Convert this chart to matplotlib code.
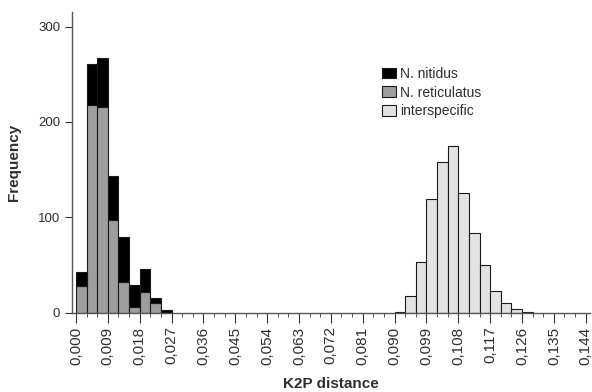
import matplotlib
matplotlib.use('Agg')
import matplotlib.pyplot as plt
from matplotlib.ticker import MultipleLocator, FuncFormatter

plt.rcParams['font.family'] = ['Liberation Sans', 'DejaVu Sans']

# bin left edges (width 0.003)
intra_bins = [0.000, 0.003, 0.006, 0.009, 0.012, 0.015, 0.018, 0.021, 0.024]
reticulatus = [28, 218, 216, 97, 32, 6, 21, 10, 0]
nitidus = [14, 43, 51, 46, 47, 23, 25, 5, 3]

inter_bins = [0.090, 0.093, 0.096, 0.099, 0.102, 0.105, 0.108,
              0.111, 0.114, 0.117, 0.120, 0.123, 0.126]
interspecific = [1, 17, 53, 119, 158, 175, 125, 83, 50, 23, 10, 4, 1]

w = 0.003
txt = '#2e2e2e'

fig = plt.figure(figsize=(5.92, 3.92), dpi=100)
ax = fig.add_axes([0.1216, 0.2028, 0.875, 0.766])

ax.bar(intra_bins, reticulatus, width=w, align='edge', color='#9e9e9e',
       edgecolor='#1a1a1a', linewidth=0.8, label='N. reticulatus')
ax.bar(intra_bins, nitidus, bottom=reticulatus, width=w, align='edge',
       color='#000000', edgecolor='#1a1a1a', linewidth=0.8, label='N. nitidus')
ax.bar(inter_bins, interspecific, width=w, align='edge', color='#e3e3e3',
       edgecolor='#1a1a1a', linewidth=0.8, label='interspecific')

ax.set_xlim(-0.00113, 0.1452)
ax.set_ylim(0, 315)

ax.xaxis.set_major_locator(MultipleLocator(0.009))
ax.xaxis.set_minor_locator(MultipleLocator(0.003))
ax.xaxis.set_major_formatter(FuncFormatter(lambda v, p: ('%.3f' % v).replace('.', ',')))
ax.yaxis.set_major_locator(MultipleLocator(100))

for s in ['top', 'right']:
    ax.spines[s].set_visible(False)
for s in ['left', 'bottom']:
    ax.spines[s].set_color('#555555')
    ax.spines[s].set_linewidth(1.0)

ax.tick_params(axis='x', which='major', length=7, color='#333333',
               labelsize=11, labelcolor=txt, rotation=90, pad=3)
ax.tick_params(axis='x', which='minor', length=3, color='#333333')
ax.tick_params(axis='y', length=5, color='#333333', labelsize=9.5, labelcolor=txt)

ax.set_xlabel('K2P distance', fontsize=11, fontweight='bold', color=txt, labelpad=9)
ax.set_ylabel('Frequency', fontsize=11, fontweight='bold', color=txt, labelpad=12)

h, l = ax.get_legend_handles_labels()
order = [1, 0, 2]
ax.legend([h[i] for i in order], [l[i] for i in order], loc='upper left',
          bbox_to_anchor=(0.575, 0.86), frameon=False, fontsize=10,
          handlelength=1.0, handleheight=0.8, handletextpad=0.3,
          labelspacing=0.35, labelcolor=txt)

fig.savefig('out.png', dpi=100)
